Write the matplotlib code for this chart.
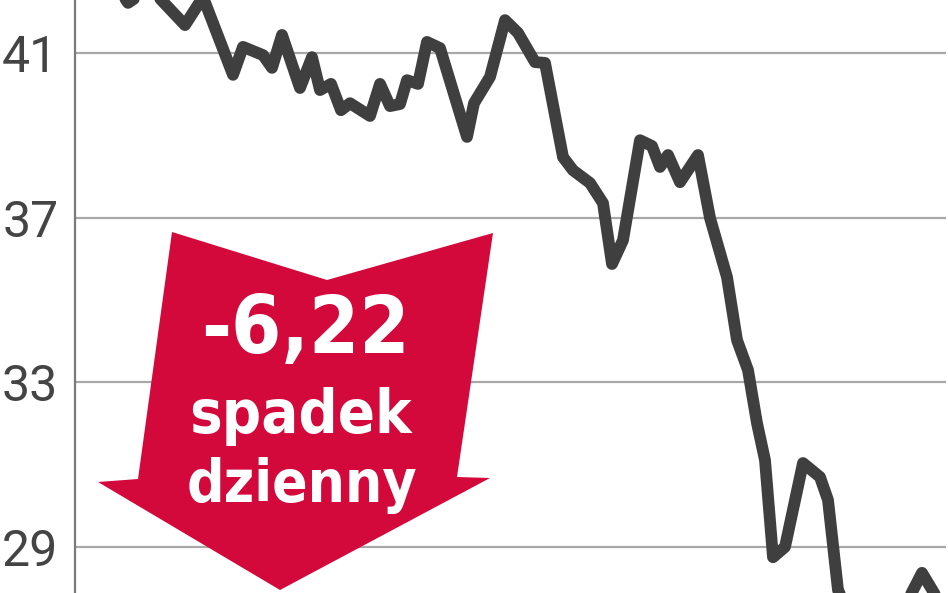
import matplotlib
matplotlib.use('Agg')
import matplotlib.pyplot as plt
from matplotlib.patches import Polygon

# ── data ──────────────────────────────────────────────────────────
session = [8.6, 10.6, 15, 22, 25.6, 31.6, 33.6, 37.6, 39.4, 41.4, 45, 47.4, 49,
           51.2, 53.2, 55, 59, 61, 63, 65, 66.4, 68.6, 70.4, 73, 78.4, 79.8, 83,
           86, 88.6, 92, 94, 97.6, 99.6, 103, 105.6, 107.4, 109.6, 113, 115.4,
           117, 118.6, 121, 124.6, 127, 130.4, 132.4, 134.6, 136.4, 138, 139.6,
           142, 145.6, 149, 150.6, 152.6, 155, 159, 163, 166.6, 169.4, 172.4, 174]
price = [42.58, 42.22, 42.58, 41.68, 42.36, 40.47, 41.15, 40.95, 40.64, 41.44,
         40.15, 40.90, 40.10, 40.25, 39.61, 39.78, 39.47, 40.25, 39.71, 39.76,
         40.34, 40.25, 41.27, 41.12, 38.96, 39.78, 40.42, 41.80, 41.49, 40.78,
         40.76, 38.47, 38.15, 37.84, 37.35, 35.87, 36.45, 38.88, 38.74, 38.23,
         38.52, 37.86, 38.52, 36.99, 35.55, 34.02, 33.29, 32.00, 31.10, 28.74,
         28.99, 31.03, 30.69, 30.13, 27.94, 27.33, 27.09, 27.26, 27.70, 28.36,
         27.75, 27.46]
yticks = [29, 33, 37, 41]
badge_lines = ['-6,22', 'spadek', 'dzienny']

W, H = 948, 593
fig = plt.figure(figsize=(W / 100, H / 100), dpi=100)
fig.patch.set_facecolor('white')

ax = fig.add_axes([75 / W, 0, 871 / W, 1])
ax.set_xlim(0, 174.2)
ax.set_ylim(27.87, 42.29)
ax.set_facecolor('white')

for s in ['top', 'right', 'bottom']:
    ax.spines[s].set_visible(False)
ax.spines['left'].set_color('#7a7a7a')
ax.spines['left'].set_linewidth(1.6)

ax.set_xticks([])
ax.set_yticks(yticks)
ax.set_yticklabels([str(t) for t in yticks], fontfamily='Roboto',
                   fontweight='normal', fontsize=36, color='#444444')
ax.tick_params(axis='y', length=0, pad=12)
ax.grid(axis='y', color='#a8a8a8', linewidth=1.6)
ax.set_axisbelow(True)

ax.plot(session, price, color='#3f3f3f', lw=8.5,
        solid_joinstyle='round', solid_capstyle='round', zorder=3)

# ── red down arrow badge (figure pixel coords, y from top) ────────
arrow_px = [(172, 232), (327, 280), (493, 233), (457, 477), (490, 478),
            (280, 590), (98, 482), (138, 479)]
pts = [(x / W, 1 - y / H) for x, y in arrow_px]
fig.patches.append(Polygon(pts, closed=True, facecolor='#d2093a',
                           edgecolor='none', transform=fig.transFigure,
                           zorder=5))

txt = dict(ha='center', va='baseline', color='white', fontweight='bold',
           fontfamily='DejaVu Sans', fontstretch='condensed', zorder=6)
fig.text(305 / W, 1 - 353 / H, badge_lines[0], fontsize=58, **txt)
fig.text(300 / W, 1 - 433 / H, badge_lines[1], fontsize=44, **txt)
fig.text(302 / W, 1 - 502 / H, badge_lines[2], fontsize=42, **txt)

fig.savefig('out.png', dpi=100, facecolor='white')
plt.close(fig)
